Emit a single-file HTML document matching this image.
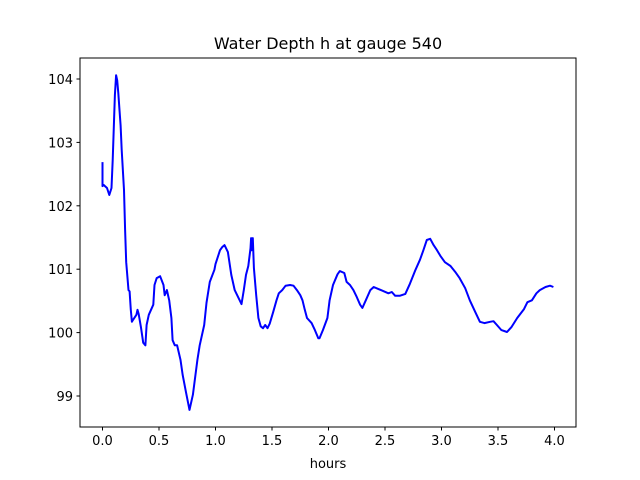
<!DOCTYPE html>
<html><head><meta charset="utf-8"><style>
body{margin:0;background:#fff;}
svg{display:block;font-family:"DejaVu Sans","Liberation Sans",sans-serif;}
</style></head><body>
<svg id="chart" width="640" height="480">
<rect width="640" height="480" fill="#fff"/>
<text x="328" y="49" font-size="16" text-anchor="middle">Water Depth h at gauge 540</text>
<g id="xticks"></g>
<g id="yticks"></g>
<path id="line" fill="none" stroke="#0000ff" stroke-width="2" stroke-linejoin="round"/>
<rect x="80" y="58" width="496" height="369" fill="none" stroke="#000" stroke-width="1"/>
<text x="328" y="468" font-size="13" text-anchor="middle">hours</text>
</svg>
<script>
const hours=[0,0,0.01,0.04,0.06,0.08,0.09,0.11,0.12,0.13,0.14,0.15,0.16,0.17,0.19,0.2,0.21,0.23,0.24,0.25,0.26,0.27,0.3,0.31,0.32,0.34,0.36,0.38,0.39,0.41,0.45,0.46,0.48,0.51,0.54,0.55,0.57,0.59,0.61,0.62,0.64,0.66,0.69,0.71,0.74,0.77,0.8,0.84,0.86,0.9,0.92,0.95,0.99,1,1.04,1.06,1.08,1.11,1.14,1.17,1.2,1.23,1.25,1.27,1.29,1.31,1.315,1.32,1.33,1.34,1.36,1.38,1.4,1.42,1.44,1.46,1.48,1.51,1.54,1.56,1.59,1.62,1.66,1.69,1.72,1.75,1.77,1.79,1.81,1.85,1.88,1.91,1.92,1.95,1.99,2.01,2.04,2.08,2.1,2.14,2.16,2.19,2.22,2.25,2.28,2.3,2.33,2.37,2.4,2.44,2.48,2.53,2.56,2.59,2.63,2.68,2.72,2.77,2.81,2.84,2.87,2.9,2.93,2.96,2.99,3.03,3.08,3.12,3.16,3.21,3.25,3.3,3.34,3.38,3.43,3.46,3.49,3.53,3.58,3.62,3.67,3.73,3.76,3.8,3.84,3.87,3.92,3.96,3.99];
const depth=[102.69,102.31,102.33,102.28,102.17,102.28,102.72,103.75,104.06,103.98,103.78,103.51,103.27,102.88,102.25,101.62,101.11,100.67,100.65,100.36,100.17,100.2,100.28,100.36,100.29,100.09,99.84,99.8,100.12,100.28,100.44,100.75,100.86,100.89,100.75,100.59,100.67,100.51,100.23,99.88,99.8,99.8,99.57,99.33,99.05,98.78,99.02,99.57,99.8,100.12,100.47,100.8,100.99,101.08,101.3,101.35,101.38,101.27,100.91,100.67,100.56,100.45,100.67,100.91,101.05,101.33,101.49,101.3,101.49,101.02,100.59,100.23,100.1,100.07,100.12,100.07,100.14,100.32,100.51,100.62,100.67,100.74,100.75,100.74,100.67,100.59,100.51,100.36,100.23,100.15,100.04,99.91,99.91,100.04,100.23,100.51,100.75,100.92,100.97,100.94,100.8,100.75,100.67,100.56,100.44,100.39,100.51,100.67,100.72,100.69,100.66,100.62,100.64,100.58,100.58,100.61,100.77,100.99,101.15,101.3,101.46,101.48,101.38,101.3,101.21,101.11,101.05,100.96,100.86,100.7,100.51,100.32,100.17,100.15,100.17,100.18,100.12,100.04,100.01,100.09,100.23,100.37,100.48,100.51,100.62,100.67,100.72,100.74,100.72];
const xTickVals=[0,0.5,1,1.5,2,2.5,3,3.5,4];
const xTickLabels=["0.0","0.5","1.0","1.5","2.0","2.5","3.0","3.5","4.0"];
const yTickVals=[99,100,101,102,103,104];
const yTickLabels=["99","100","101","102","103","104"];
const NS="http://www.w3.org/2000/svg";
function xs(h){return 102.5+(h-0)*113;}
function ys(d){return 79+(104-d)*63.4;}
const xg=document.getElementById('xticks'),yg=document.getElementById('yticks');
xTickVals.forEach((v,i)=>{
 const l=document.createElementNS(NS,'line');
 
 
 l.setAttribute('x1',xs(v));l.setAttribute('x2',xs(v));l.setAttribute('y1',427);l.setAttribute('y2',430.5);l.setAttribute('stroke','#000');
 xg.appendChild(l);
 const t=document.createElementNS(NS,'text');
 
 
 t.setAttribute('x',xs(v));t.setAttribute('y',445);t.setAttribute('font-size','13');t.setAttribute('text-anchor','middle');
 t.textContent=xTickLabels[i];xg.appendChild(t);
});
yTickVals.forEach((v,i)=>{
 const l=document.createElementNS(NS,'line');
 
 
 l.setAttribute('x1',76.5);l.setAttribute('x2',80);l.setAttribute('y1',ys(v));l.setAttribute('y2',ys(v));l.setAttribute('stroke','#000');
 yg.appendChild(l);
 const t=document.createElementNS(NS,'text');
 
 
 t.setAttribute('x',73);t.setAttribute('y',ys(v)+5);t.setAttribute('font-size','13');t.setAttribute('text-anchor','end');
 t.textContent=yTickLabels[i];yg.appendChild(t);
});
document.getElementById('line').setAttribute('d',hours.map((h,i)=>(i?'L':'M')+xs(h).toFixed(1)+','+ys(depth[i]).toFixed(1)).join(''));
</script>
</body></html>
